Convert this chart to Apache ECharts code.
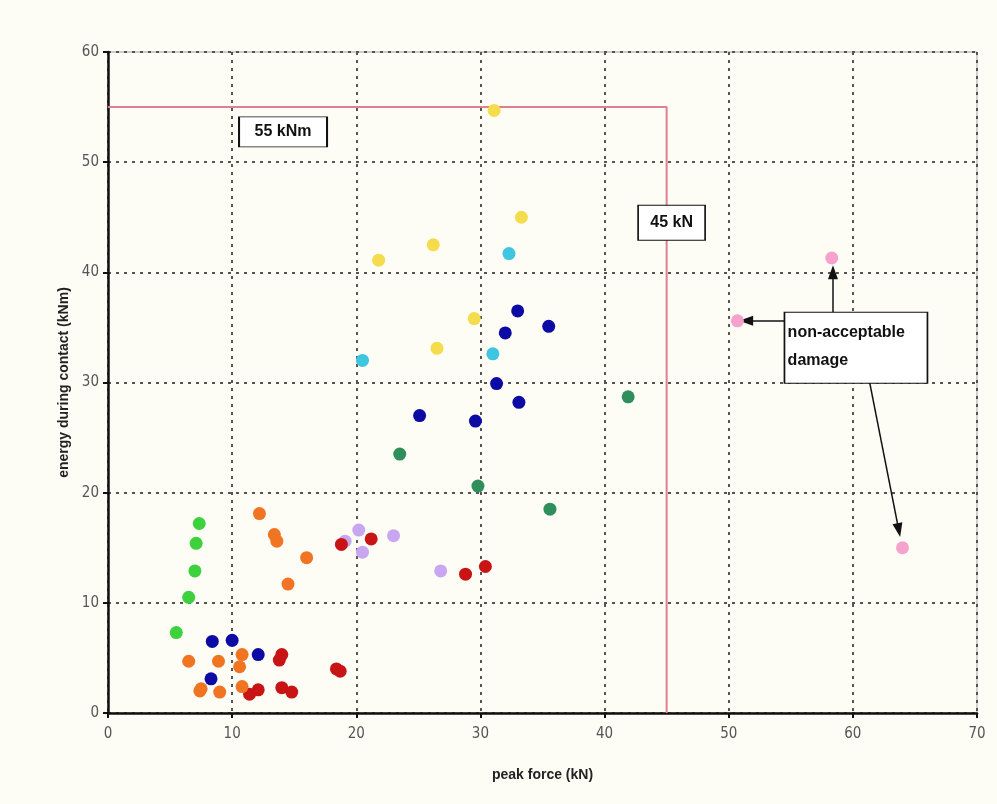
<!DOCTYPE html>
<html>
<head>
<meta charset="utf-8">
<script src="https://cdn.jsdelivr.net/npm/echarts@6/dist/echarts.min.js"></script>
<style>
html,body{margin:0;padding:0;background:#fdfdf6;}
#c{width:997px;height:804px;}
</style>
</head>
<body>
<div id="c"></div>
<script>
// ---- data ----
var xTicks = [0, 10, 20, 30, 40, 50, 60, 70];
var yTicks = [0, 10, 20, 30, 40, 50, 60];
var yellowPts = [[31.1,54.7],[33.3,45.0],[26.2,42.5],[21.8,41.1],[29.5,35.8],[26.5,33.1]];
var cyanPts = [[32.3,41.7],[20.5,32.0],[31.0,32.6]];
var navyPts = [[33.0,36.5],[32.0,34.5],[35.5,35.1],[31.3,29.9],[33.1,28.2],[25.1,27.0],[29.6,26.5],[8.4,6.5],[10.0,6.6],[12.1,5.3],[8.3,3.1]];
var greenPts = [[7.35,17.2],[7.1,15.4],[7.0,12.9],[6.5,10.5],[5.5,7.3]];
var tealPts = [[41.9,28.7],[23.5,23.5],[29.8,20.6],[35.6,18.5]];
var orangePts = [[12.2,18.1],[13.4,16.2],[13.6,15.6],[16.0,14.1],[14.5,11.7],[6.5,4.7],[8.9,4.7],[10.8,5.3],[10.6,4.2],[7.5,2.2],[7.4,2.0],[9.0,1.9],[10.8,2.4]];
var redPts = [[11.4,1.7],[12.1,2.1],[14.0,5.3],[13.8,4.8],[14.0,2.3],[14.8,1.9],[18.4,4.0],[18.7,3.8],[18.8,15.3],[21.2,15.8],[28.8,12.6],[30.4,13.3]];
var lavenderPts = [[19.1,15.6],[20.2,16.6],[20.5,14.6],[23.0,16.1],[26.8,12.9]];
var pinkPts = [[50.7,35.6],[58.3,41.3],[64.0,15.0]];
var energyLimit = 55;   // kNm
var forceLimit = 45;    // kN
var limitPath = [[0, energyLimit], [forceLimit, energyLimit], [forceLimit, 0]];
var labelEnergy = {text: '55 kNm', at: [14.1, 52.75]};
var labelForce = {text: '45 kN', at: [45.4, 44.5]};
var labelDamage = {text: 'non-acceptable\ndamage', at: [60.25, 33.15]};
var arrows = [
  [[54.5, 35.6], [51.4, 35.6]],
  [[58.4, 36.4], [58.4, 40.0]],
  [[60.9, 32.6], [63.7, 16.6]]
];

var chart = echarts.init(document.getElementById('c'), null, {renderer: 'canvas'});
var FONT = '"Liberation Sans Narrow", "DejaVu Sans Condensed", "Liberation Sans", Arial, sans-serif';
var BFONT = '"Liberation Sans", Arial, sans-serif';

function sc(name, data, color) {
  return {
    name: name, type: 'scatter', data: data, symbol: 'circle', symbolSize: 13,
    itemStyle: {color: color, opacity: 1}, z: 5
  };
}

var boxStyle = {color: '#ffffff', borderColor: '#111', borderWidth: 1.2};

var option = {
  backgroundColor: '#fdfdf6',
  animation: false,
  grid: {left: 108, right: 20, top: 52, bottom: 91, show: true, borderColor: '#a0a0a0', borderWidth: 1, backgroundColor: 'transparent'},
  xAxis: {
    type: 'value', min: 0, max: 70, interval: 10,
    name: 'peak force (kN)', nameLocation: 'middle', nameGap: 55,
    nameTextStyle: {fontFamily: BFONT, fontWeight: 'bold', fontSize: 14, color: '#222'},
    axisLine: {show: true, lineStyle: {color: '#111', width: 2.5}},
    axisTick: {show: true, length: 5, lineStyle: {color: '#111', width: 2}},
    axisLabel: {fontFamily: FONT, fontSize: 15, color: '#555', margin: 14,
      formatter: function (v) { return xTicks.indexOf(v) >= 0 ? String(v) : ''; }},
    splitLine: {show: true, lineStyle: {color: '#555', width: 2, type: [3, 5]}}
  },
  yAxis: {
    type: 'value', min: 0, max: 60, interval: 10,
    name: 'energy during contact (kNm)', nameLocation: 'middle', nameGap: 34,
    nameTextStyle: {fontFamily: BFONT, fontWeight: 'bold', fontSize: 14, color: '#222'},
    axisLine: {show: true, lineStyle: {color: '#111', width: 2.5}},
    axisTick: {show: true, length: 5, lineStyle: {color: '#111', width: 2}},
    axisLabel: {fontFamily: FONT, fontSize: 15, color: '#555', margin: 9,
      formatter: function (v) { return yTicks.indexOf(v) >= 0 ? String(v) : ''; }},
    splitLine: {show: true, lineStyle: {color: '#555', width: 2, type: [3, 5]}}
  },
  series: [
    {
      name: 'limits', type: 'line', data: limitPath, symbol: 'none',
      lineStyle: {color: '#e0808e', width: 2}, z: 3, silent: true
    },
    sc('lavender', lavenderPts, '#c9a6f0'),
    sc('red', redPts, '#c81414'),
    sc('orange', orangePts, '#f07422'),
    sc('green', greenPts, '#3dd23d'),
    sc('teal', tealPts, '#2f8f5c'),
    sc('navy', navyPts, '#0c0ca4'),
    sc('cyan', cyanPts, '#3ec6e0'),
    sc('yellow', yellowPts, '#f5dc4c'),
    sc('pink', pinkPts, '#f6a2cc'),
    {
      name: 'annotations', type: 'scatter', data: [], silent: true, z: 10,
      markLine: {
        silent: true, animation: false,
        symbol: ['none', 'triangle'], symbolSize: [10, 14],
        lineStyle: {color: '#111', width: 1.5, type: 'solid'},
        label: {show: false},
        data: arrows.map(function (a) { return [{coord: a[0]}, {coord: a[1]}]; })
      },
      markPoint: {
        silent: true, animation: false,
        data: [
          {coord: labelEnergy.at, symbol: 'rect', symbolSize: [88, 30], itemStyle: boxStyle,
           label: {show: true, position: 'inside', formatter: labelEnergy.text, fontFamily: BFONT, fontWeight: 'bold', fontSize: 16, color: '#111'}},
          {coord: labelForce.at, symbol: 'rect', symbolSize: [67, 35], itemStyle: boxStyle,
           label: {show: true, position: 'inside', formatter: labelForce.text, fontFamily: BFONT, fontWeight: 'bold', fontSize: 16, color: '#111'}},
          {coord: labelDamage.at, symbol: 'rect', symbolSize: [143, 71], itemStyle: boxStyle,
           label: {show: true, position: [4, 7], align: 'left', verticalAlign: 'top', formatter: labelDamage.text, fontFamily: BFONT, fontWeight: 'bold', fontSize: 16, lineHeight: 28, color: '#111'}}
        ]
      }
    }
  ]
};
chart.setOption(option);
</script>
</body>
</html>
